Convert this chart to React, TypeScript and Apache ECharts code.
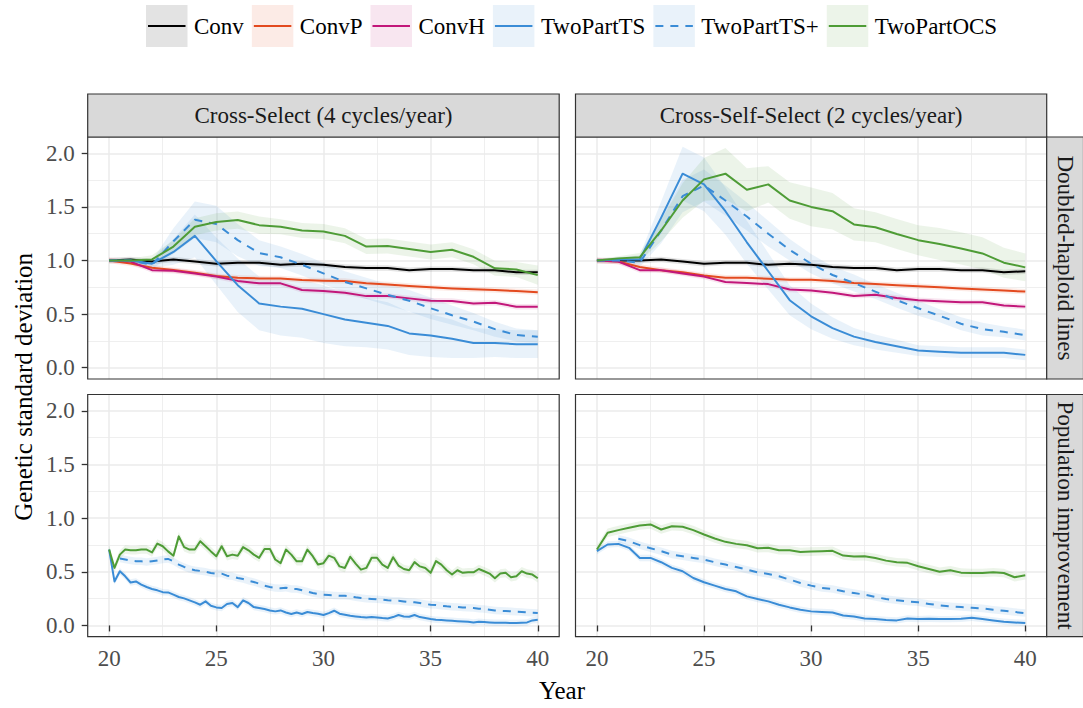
import React, { useEffect, useRef } from 'react';
import * as echarts from 'echarts';

// ---------------- data ----------------
const METHODS = ['Conv', 'ConvP', 'ConvH', 'TwoPartTS', 'TwoPartTS+', 'TwoPartOCS'];
const COLORS = ['#000000', '#E34A1F', '#C2177A', '#3A8CD6', '#3A8CD6', '#4E9C36'];
const DASHED = [false, false, false, false, true, false];

const FACET_COLS = ['Cross-Select (4 cycles/year)', 'Cross-Self-Select (2 cycles/year)'];
const FACET_ROWS = ['Doubled-haploid lines', 'Population improvement'];
const X_TITLE = 'Year';
const Y_TITLE = 'Genetic standard deviation';

const X_TICKS = [20, 25, 30, 35, 40];
const X_MINOR = [22.5, 27.5, 32.5, 37.5];
const Y_TICKS = [0, 0.5, 1, 1.5, 2];
const Y_MINOR = [0.25, 0.75, 1.25, 1.75];

const YEARS = [20, 21, 22, 23, 24, 25, 26, 27, 28, 29, 30, 31, 32, 33, 34, 35, 36, 37, 38, 39, 40];
const QUARTER_YEARS = Array.from({ length: 81 }, (_, i) => 20 + i * 0.25);
const HALF_YEARS = Array.from({ length: 41 }, (_, i) => 20 + i * 0.5);

// Doubled-haploid lines, Cross-Select
const TL_CONV = [1.0, 1.01, 0.99, 1.01, 0.99, 0.97, 0.98, 0.98, 0.96, 0.97, 0.96, 0.94, 0.93, 0.93, 0.91, 0.92, 0.92, 0.91, 0.91, 0.89, 0.89];
const TL_CONVP = [1.0, 0.973, 0.933, 0.911, 0.886, 0.855, 0.84, 0.833, 0.833, 0.818, 0.812, 0.81, 0.787, 0.777, 0.762, 0.75, 0.74, 0.731, 0.725, 0.715, 0.705];
const TL_CONVH = [1.0, 0.99, 0.91, 0.905, 0.88, 0.85, 0.81, 0.787, 0.787, 0.725, 0.715, 0.7, 0.668, 0.67, 0.647, 0.625, 0.622, 0.6, 0.606, 0.569, 0.569];
const TL_TS = [1.0, 1.0, 0.97, 1.08, 1.23, 0.995, 0.77, 0.6, 0.57, 0.55, 0.5, 0.45, 0.42, 0.39, 0.32, 0.3, 0.27, 0.23, 0.23, 0.22, 0.22];
const TL_TSP = [1.0, 1.0, 0.96, 1.18, 1.38, 1.34, 1.19, 1.07, 1.03, 0.96, 0.88, 0.8, 0.74, 0.68, 0.625, 0.555, 0.49, 0.43, 0.36, 0.305, 0.29];
const TL_OCS = [1.0, 1.0, 1.01, 1.13, 1.315, 1.36, 1.377, 1.33, 1.315, 1.28, 1.27, 1.23, 1.13, 1.135, 1.107, 1.08, 1.1, 1.035, 0.927, 0.917, 0.864];
const TL_TS_SPREAD = [0.01, 0.02, 0.04, 0.12, 0.2, 0.22, 0.25, 0.25, 0.27, 0.27, 0.27, 0.25, 0.23, 0.22, 0.2, 0.2, 0.18, 0.14, 0.13, 0.13, 0.13];
const TL_TSP_SPREAD = [0.01, 0.02, 0.04, 0.12, 0.17, 0.17, 0.15, 0.12, 0.1, 0.1, 0.1, 0.1, 0.1, 0.1, 0.1, 0.1, 0.09, 0.08, 0.07, 0.06, 0.06];
const TL_OCS_SPREAD = [0.01, 0.02, 0.04, 0.06, 0.08, 0.08, 0.08, 0.08, 0.07, 0.07, 0.07, 0.07, 0.07, 0.07, 0.07, 0.07, 0.07, 0.07, 0.07, 0.07, 0.09];

// Doubled-haploid lines, Cross-Self-Select
const TR_CONV = [1.0, 1.0, 1.0, 1.01, 0.99, 0.97, 0.98, 0.98, 0.96, 0.97, 0.96, 0.94, 0.93, 0.93, 0.91, 0.92, 0.92, 0.91, 0.91, 0.89, 0.9];
const TR_CONVP = [1.0, 0.99, 0.94, 0.91, 0.89, 0.86, 0.84, 0.84, 0.83, 0.82, 0.82, 0.81, 0.79, 0.78, 0.77, 0.76, 0.75, 0.74, 0.73, 0.72, 0.71];
const TR_CONVH = [1.0, 0.99, 0.91, 0.91, 0.88, 0.85, 0.8, 0.79, 0.78, 0.73, 0.72, 0.7, 0.67, 0.68, 0.65, 0.63, 0.62, 0.61, 0.61, 0.58, 0.57];
const TR_TS = [1.0, 1.01, 1.01, 1.4, 1.81, 1.71, 1.46, 1.17, 0.9, 0.63, 0.48, 0.37, 0.29, 0.24, 0.2, 0.16, 0.15, 0.14, 0.14, 0.14, 0.12];
const TR_TSP = [1.0, 1.0, 0.98, 1.28, 1.6, 1.7, 1.56, 1.41, 1.25, 1.1, 0.97, 0.865, 0.79, 0.71, 0.63, 0.555, 0.485, 0.41, 0.36, 0.335, 0.305];
const TR_OCS = [1.0, 1.02, 1.03, 1.28, 1.56, 1.757, 1.81, 1.66, 1.71, 1.56, 1.5, 1.46, 1.337, 1.31, 1.247, 1.19, 1.154, 1.113, 1.066, 0.98, 0.936];
const TR_TS_SPREAD = [0.01, 0.02, 0.04, 0.15, 0.25, 0.25, 0.22, 0.2, 0.17, 0.14, 0.12, 0.1, 0.08, 0.07, 0.06, 0.05, 0.05, 0.05, 0.05, 0.05, 0.05];
const TR_TSP_SPREAD = [0.01, 0.02, 0.04, 0.12, 0.15, 0.15, 0.14, 0.13, 0.12, 0.1, 0.09, 0.08, 0.08, 0.07, 0.07, 0.07, 0.06, 0.06, 0.06, 0.05, 0.05];
const TR_OCS_SPREAD = [0.01, 0.02, 0.04, 0.1, 0.16, 0.2, 0.24, 0.2, 0.17, 0.17, 0.18, 0.17, 0.15, 0.14, 0.14, 0.14, 0.15, 0.15, 0.15, 0.14, 0.13];

// Population improvement, Cross-Select (quarter years)
const BL_TS = [0.707, 0.41, 0.505, 0.458, 0.4, 0.41, 0.38, 0.358, 0.34, 0.327,
  0.31, 0.308, 0.287, 0.265, 0.252, 0.234, 0.215, 0.193, 0.224, 0.184,
  0.168, 0.162, 0.2, 0.209, 0.171, 0.234, 0.209, 0.171, 0.162, 0.153,
  0.14, 0.131, 0.14, 0.121, 0.106, 0.121, 0.106, 0.125, 0.115, 0.109,
  0.097, 0.115, 0.137, 0.109, 0.1, 0.09, 0.084, 0.078, 0.075, 0.078,
  0.075, 0.069, 0.065, 0.078, 0.097, 0.084, 0.081, 0.097, 0.078, 0.069,
  0.059, 0.053, 0.05, 0.047, 0.044, 0.04, 0.037, 0.034, 0.028, 0.034,
  0.031, 0.028, 0.025, 0.025, 0.025, 0.022, 0.022, 0.025, 0.028, 0.047,
  0.053];
const BL_TSP = [0.623, 0.614, 0.604, 0.598, 0.598, 0.592, 0.598, 0.604,
  0.614, 0.62, 0.598, 0.567, 0.545, 0.526, 0.514, 0.508, 0.5, 0.489,
  0.483, 0.483, 0.464, 0.458, 0.442, 0.433, 0.417, 0.405, 0.389, 0.37,
  0.358, 0.349, 0.346, 0.352, 0.34, 0.34, 0.327, 0.315, 0.302, 0.293,
  0.287, 0.283, 0.28, 0.277, 0.277, 0.271, 0.262, 0.255, 0.249, 0.246,
  0.243, 0.24, 0.234, 0.23, 0.23, 0.224, 0.218, 0.215, 0.209, 0.2,
  0.193, 0.19, 0.184, 0.178, 0.174, 0.171, 0.168, 0.165, 0.162, 0.156,
  0.153, 0.146, 0.14, 0.137, 0.134, 0.131, 0.128, 0.125, 0.121, 0.118,
  0.115];
const BL_OCS = [0.707, 0.536, 0.66, 0.707, 0.7, 0.7, 0.707, 0.707, 0.68, 0.763,
  0.738, 0.69, 0.65, 0.83, 0.73, 0.707, 0.707, 0.785, 0.738, 0.69,
  0.645, 0.738, 0.645, 0.66, 0.65, 0.73, 0.7, 0.66, 0.63, 0.713,
  0.713, 0.614, 0.58, 0.707, 0.66, 0.598, 0.598, 0.707, 0.645, 0.567,
  0.58, 0.65, 0.63, 0.55, 0.536, 0.64, 0.576, 0.52, 0.536, 0.63,
  0.63, 0.567, 0.536, 0.636, 0.558, 0.526, 0.514, 0.59, 0.55, 0.536,
  0.49, 0.6, 0.567, 0.514, 0.474, 0.514, 0.49, 0.495, 0.495, 0.526,
  0.505, 0.483, 0.44, 0.483, 0.49, 0.449, 0.458, 0.505, 0.483, 0.474,
  0.44];

// Population improvement, Cross-Self-Select (half years)
const BR_TS = [0.692, 0.754, 0.76, 0.723, 0.629, 0.629, 0.589, 0.536, 0.505, 0.442,
  0.402, 0.371, 0.34, 0.318, 0.271, 0.246, 0.224, 0.193, 0.168, 0.146,
  0.131, 0.125, 0.121, 0.093, 0.084, 0.065, 0.059, 0.05, 0.047, 0.065,
  0.059, 0.062, 0.059, 0.059, 0.062, 0.072, 0.059, 0.047, 0.034, 0.028,
  0.022];
const BR_TSP = [0.807, 0.785, 0.748, 0.72, 0.692, 0.66, 0.645, 0.629,
  0.614, 0.589, 0.567, 0.545, 0.52, 0.495, 0.48, 0.458, 0.427, 0.396,
  0.371, 0.349, 0.34, 0.318, 0.302, 0.287, 0.265, 0.246, 0.234, 0.224,
  0.215, 0.2, 0.187, 0.178, 0.171, 0.165, 0.159, 0.146, 0.137, 0.125,
  0.115];
const BR_OCS = [0.707, 0.863, 0.888, 0.91, 0.931, 0.941, 0.894, 0.925, 0.919, 0.888,
  0.847, 0.81, 0.779, 0.76, 0.748, 0.72, 0.723, 0.7, 0.7, 0.685,
  0.688, 0.692, 0.695, 0.651, 0.642, 0.645, 0.629, 0.604, 0.589, 0.583,
  0.551, 0.526, 0.5, 0.514, 0.492, 0.489, 0.489, 0.495, 0.489, 0.449,
  0.467];

const CONV_SPREAD = 0.025;
const POP_TS_SPREAD = 0.03;
const POP_TSP_SPREAD = 0.035;
const POP_OCS_SPREAD = 0.04;

// ---------------- layout ----------------
const FONT = 'Liberation Serif';
const TEXT_SIZE = 23;
const TITLE_SIZE = 25;
const COLS = [{ left: 87.7, width: 471.5 }, { left: 575.5, width: 471.2 }];
const ROWS = [{ top: 137, height: 242 }, { top: 394.5, height: 242.2 }];
const X_MIN = 19, X_MAX = 41;
const Y_MIN = -0.105, Y_MAX = 2.152;

const PANELS = [
  { row: 0, col: 0, xs: YEARS, lines: [TL_CONV, TL_CONVP, TL_CONVH, TL_TS, TL_TSP, TL_OCS],
    spreads: [CONV_SPREAD, CONV_SPREAD, CONV_SPREAD, TL_TS_SPREAD, TL_TSP_SPREAD, TL_OCS_SPREAD], starts: [0, 0, 0, 0, 0, 0] },
  { row: 0, col: 1, xs: YEARS, lines: [TR_CONV, TR_CONVP, TR_CONVH, TR_TS, TR_TSP, TR_OCS],
    spreads: [CONV_SPREAD, CONV_SPREAD, CONV_SPREAD, TR_TS_SPREAD, TR_TSP_SPREAD, TR_OCS_SPREAD], starts: [0, 0, 0, 0, 0, 0] },
  { row: 1, col: 0, xs: QUARTER_YEARS, lines: [null, null, null, BL_TS, BL_TSP, BL_OCS],
    spreads: [0, 0, 0, POP_TS_SPREAD, POP_TSP_SPREAD, POP_OCS_SPREAD], starts: [0, 0, 0, 0, 2, 0] },
  { row: 1, col: 1, xs: HALF_YEARS, lines: [null, null, null, BR_TS, BR_TSP, BR_OCS],
    spreads: [0, 0, 0, POP_TS_SPREAD, POP_TSP_SPREAD, POP_OCS_SPREAD], starts: [0, 0, 0, 0, 2, 0] },
];

function rgba(hex: string, a: number) {
  const n = parseInt(hex.slice(1), 16);
  return `rgba(${(n >> 16) & 255},${(n >> 8) & 255},${n & 255},${a})`;
}

function measure(text: string, size: number) {
  const ctx = document.createElement('canvas').getContext('2d');
  if (!ctx) return text.length * size * 0.5;
  ctx.font = `${size}px "${FONT}"`;
  return ctx.measureText(text).width;
}

function buildOption() {
  const grids = PANELS.map((p) => ({
    left: COLS[p.col].left, top: ROWS[p.row].top, width: COLS[p.col].width, height: ROWS[p.row].height,
    show: false, containLabel: false,
  }));

  const mainX = PANELS.map((p, i) => {
    const bottom = p.row === 1;
    return {
      type: 'value', gridIndex: i, min: X_MIN, max: X_MAX, position: 'bottom',
      axisLine: { show: false },
      axisTick: { show: bottom, customValues: X_TICKS, length: 6, lineStyle: { color: '#333333', width: 1.3 } },
      axisLabel: { show: bottom, customValues: X_TICKS, fontSize: TEXT_SIZE, fontFamily: FONT, color: '#4D4D4D', margin: 10,
        formatter: (v: number) => String(v) },
      splitLine: { show: true, customValues: X_TICKS, lineStyle: { color: '#EBEBEB', width: 1.5 } },
    };
  });
  const minorX = PANELS.map((p, i) => ({
    type: 'value', gridIndex: i, min: X_MIN, max: X_MAX, position: 'top',
    axisLine: { show: false },
    axisTick: { show: false, customValues: X_MINOR },
    axisLabel: { show: false, customValues: X_MINOR },
    splitLine: { show: true, customValues: X_MINOR, lineStyle: { color: '#EBEBEB', width: 0.8 } },
  }));
  const mainY = PANELS.map((p, i) => {
    const left = p.col === 0;
    return {
      type: 'value', gridIndex: i, min: Y_MIN, max: Y_MAX, position: 'left',
      axisLine: { show: false },
      axisTick: { show: left, customValues: Y_TICKS, length: 6, lineStyle: { color: '#333333', width: 1.3 } },
      axisLabel: { show: left, customValues: Y_TICKS, fontSize: TEXT_SIZE, fontFamily: FONT, color: '#4D4D4D', margin: 13,
        formatter: (v: number) => v.toFixed(1) },
      splitLine: { show: true, customValues: Y_TICKS, lineStyle: { color: '#EBEBEB', width: 1.5 } },
    };
  });
  const minorY = PANELS.map((p, i) => ({
    type: 'value', gridIndex: i, min: Y_MIN, max: Y_MAX, position: 'right',
    axisLine: { show: false },
    axisTick: { show: false, customValues: Y_MINOR },
    axisLabel: { show: false, customValues: Y_MINOR },
    splitLine: { show: true, customValues: Y_MINOR, lineStyle: { color: '#EBEBEB', width: 0.8 } },
  }));

  const ribbons: any[] = [];
  const lines: any[] = [];
  PANELS.forEach((p, pi) => {
    p.lines.forEach((vals, mi) => {
      if (!vals) return;
      const xs = p.xs.slice(p.starts[mi], p.starts[mi] + vals.length);
      const sp = p.spreads[mi];
      const spreadAt = (k: number) => (Array.isArray(sp) ? sp[k] : sp);
      const upper = xs.map((x, k) => [x, vals[k] + spreadAt(k)]);
      const lower = xs.map((x, k) => [x, vals[k] - spreadAt(k)]);
      const fill = rgba(COLORS[mi], 0.11);
      ribbons.push({
        type: 'custom', name: `${METHODS[mi]} ribbon`, xAxisIndex: pi, yAxisIndex: pi, silent: true, z: 2,
        clip: true,
        data: [[xs[0], vals[0]]],
        renderItem: (params: any, api: any) => {
          const pts = [
            ...upper.map((pt) => api.coord(pt)),
            ...lower.slice().reverse().map((pt) => api.coord(pt)),
          ];
          return { type: 'polygon', shape: { points: pts }, style: { fill, stroke: 'none' } };
        },
      });
      lines.push({
        type: 'line', name: METHODS[mi], xAxisIndex: pi, yAxisIndex: pi, symbol: 'none', silent: true, z: 3,
        data: xs.map((x, k) => [x, vals[k]]),
        lineStyle: { color: COLORS[mi], width: 2, type: DASHED[mi] ? [8, 7] : 'solid', cap: 'butt', join: 'round' },
      });
    });
  });

  const graphic: any[] = [];
  PANELS.forEach((p) => {
    graphic.push({
      type: 'rect', z: 50, silent: true,
      shape: { x: COLS[p.col].left, y: ROWS[p.row].top, width: COLS[p.col].width, height: ROWS[p.row].height },
      style: { fill: 'none', stroke: '#333333', lineWidth: 1.2 },
    });
  });
  FACET_COLS.forEach((label, c) => {
    const x = COLS[c].left, w = COLS[c].width;
    graphic.push({
      type: 'rect', z: 50, silent: true,
      shape: { x, y: 94, width: w, height: ROWS[0].top - 94 },
      style: { fill: '#D9D9D9', stroke: '#333333', lineWidth: 1.2 },
    });
    graphic.push({
      type: 'text', z: 51, silent: true, x: x + w / 2, y: (94 + ROWS[0].top) / 2,
      style: { text: label, fontSize: TEXT_SIZE, fontFamily: FONT, fill: '#1A1A1A',
        align: 'center', verticalAlign: 'middle', textAlign: 'center', textVerticalAlign: 'middle' },
    });
  });
  const stripX = COLS[1].left + COLS[1].width;
  FACET_ROWS.forEach((label, r) => {
    const y = ROWS[r].top, h = ROWS[r].height;
    graphic.push({
      type: 'rect', z: 50, silent: true,
      shape: { x: stripX, y, width: 1083.5 - stripX, height: h },
      style: { fill: '#D9D9D9', stroke: '#333333', lineWidth: 1.2 },
    });
    graphic.push({
      type: 'text', z: 51, silent: true, x: stripX + (1083 - stripX) / 2 + 1, y: y + h / 2, rotation: -Math.PI / 2,
      style: { text: label, fontSize: TEXT_SIZE, fontFamily: FONT, fill: '#1A1A1A',
        align: 'center', verticalAlign: 'middle', textAlign: 'center', textVerticalAlign: 'middle' },
    });
  });
  graphic.push({
    type: 'text', silent: true, x: 23, y: (ROWS[0].top + ROWS[1].top + ROWS[1].height) / 2, rotation: Math.PI / 2,
    style: { text: Y_TITLE, fontSize: TITLE_SIZE, fontFamily: FONT, fill: '#000000',
      align: 'center', verticalAlign: 'middle', textAlign: 'center', textVerticalAlign: 'middle' },
  });
  graphic.push({
    type: 'text', silent: true, x: 562, y: 690,
    style: { text: X_TITLE, fontSize: TITLE_SIZE, fontFamily: FONT, fill: '#000000',
      align: 'center', verticalAlign: 'middle', textAlign: 'center', textVerticalAlign: 'middle' },
  });
  let lx = 146;
  const keyW = 41.5, keyTop = 5, keyH = 42, keyMid = 26;
  METHODS.forEach((m, mi) => {
    graphic.push({
      type: 'rect', silent: true, shape: { x: lx, y: keyTop, width: keyW, height: keyH },
      style: { fill: rgba(COLORS[mi], 0.11) },
    });
    graphic.push({
      type: 'line', silent: true, shape: { x1: lx + 2, y1: keyMid, x2: lx + keyW - 2, y2: keyMid },
      style: { stroke: COLORS[mi], lineWidth: 2, lineDash: DASHED[mi] ? [8, 7] : null },
    });
    const tx = lx + keyW + 6.5;
    graphic.push({
      type: 'text', silent: true, x: tx, y: keyMid,
      style: { text: m, fontSize: TEXT_SIZE, fontFamily: FONT, fill: '#000000',
        align: 'left', verticalAlign: 'middle', textAlign: 'left', textVerticalAlign: 'middle' },
    });
    lx = tx + measure(m, TEXT_SIZE) + 8;
  });

  return {
    animation: false,
    backgroundColor: '#FFFFFF',
    grid: grids,
    xAxis: [...mainX, ...minorX],
    yAxis: [...mainY, ...minorY],
    series: [...ribbons, ...lines],
    graphic,
  };
}

export default function App() {
  const ref = useRef<HTMLDivElement>(null);
  useEffect(() => {
    if (!ref.current) return;
    const chart = echarts.init(ref.current, null, { renderer: 'svg' });
    chart.setOption(buildOption() as any);
    return () => chart.dispose();
  }, []);
  return <div ref={ref} style={{ position: 'absolute', left: 0, top: 0, width: 1083, height: 708 }} />;
}
